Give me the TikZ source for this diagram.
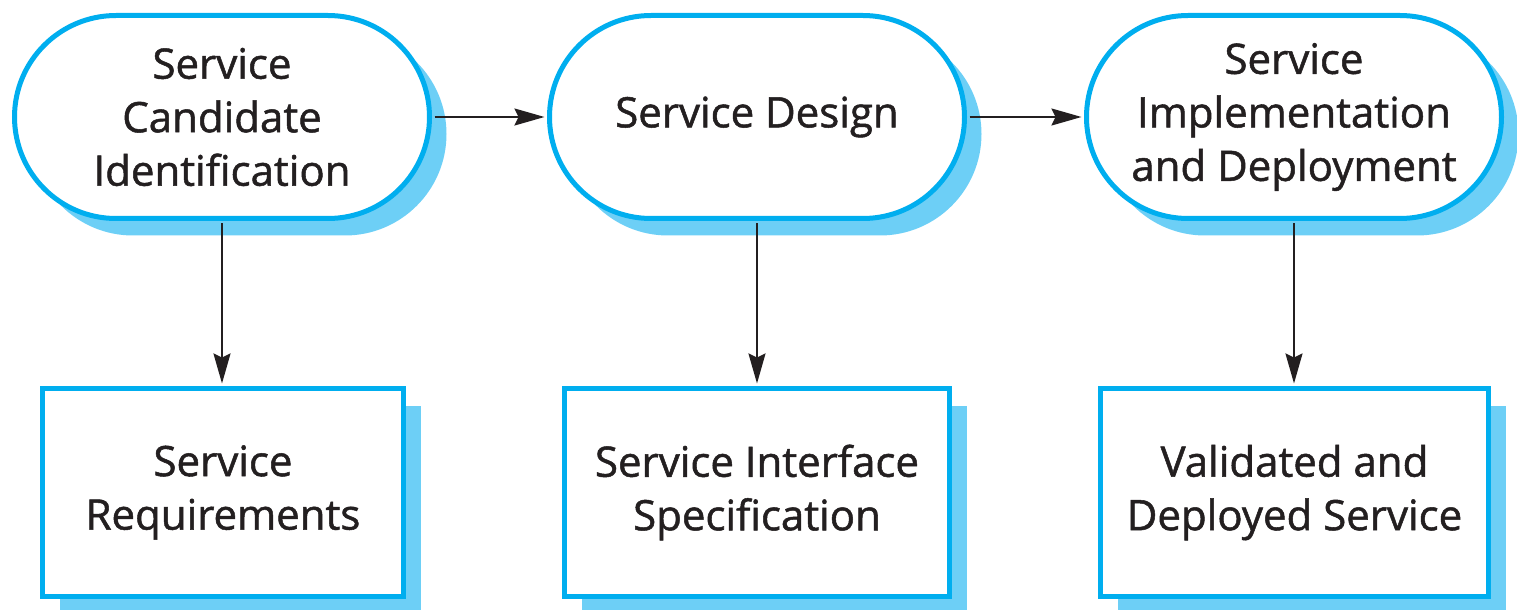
\documentclass[tikz,border=0pt]{standalone}
\usepackage{fontspec}
\setmainfont{Open Sans}
\newfontfamily\stagefont{Open Sans}[FakeBold=1.2]
\usepackage{tikz}
\usetikzlibrary{arrows.meta, shadows}
\definecolor{svcBorder}{RGB}{0, 174, 239}
\definecolor{svcShadow}{RGB}{109, 207, 246}
\definecolor{svcText}{RGB}{35, 31, 32}

\tikzset{
  stage/.style={draw=svcBorder, line width=2.5pt, fill=white, align=center,
    text=svcText, font=\stagefont\fontsize{21}{26.75}\selectfont,
    drop shadow={shadow xshift=8.5pt, shadow yshift=-8.5pt, fill=svcShadow, opacity=1}},
  activity/.style={stage, rounded corners=50.75pt, minimum width=207.5pt, minimum height=101.5pt},
  product/.style={stage, minimum height=104pt},
  flow/.style={-{Stealth[length=15pt, width=8.5pt, inset=2pt]}, line width=1pt, svcText,
    shorten <=1.25pt, shorten >=1.25pt}
}

\begin{document}
\begin{tikzpicture}[x=0.5pt, y=-0.5pt]
  \useasboundingbox (0,0) rectangle (1517,610);

  % activities along the top
  \node[activity] (identify) at (222,117) {Service\\Candidate\\Identification};
  \node[activity] (design)   at (757,117) {Service Design};
  \node[activity] (deploy)   at (1294,117) {Service\\Implementation\\and Deployment};

  % what each activity produces
  \node[product, minimum width=180.5pt] (reqs)  at (223,492.5)  {Service\\Requirements};
  \node[product, minimum width=192.5pt] (iface) at (757,492.5)  {Service Interface\\Specification};
  \node[product, minimum width=194pt]   (done)  at (1294.5,492.5) {Validated and\\Deployed Service};

  % process flow
  \draw[flow] (identify.east) -- (design.west);
  \draw[flow] (design.east) -- (deploy.west);

  % outputs
  \draw[flow] (identify.south) -- (identify.south |- reqs.north);
  \draw[flow] (design.south) -- (design.south |- iface.north);
  \draw[flow] (deploy.south) -- (deploy.south |- done.north);
\end{tikzpicture}
\end{document}
